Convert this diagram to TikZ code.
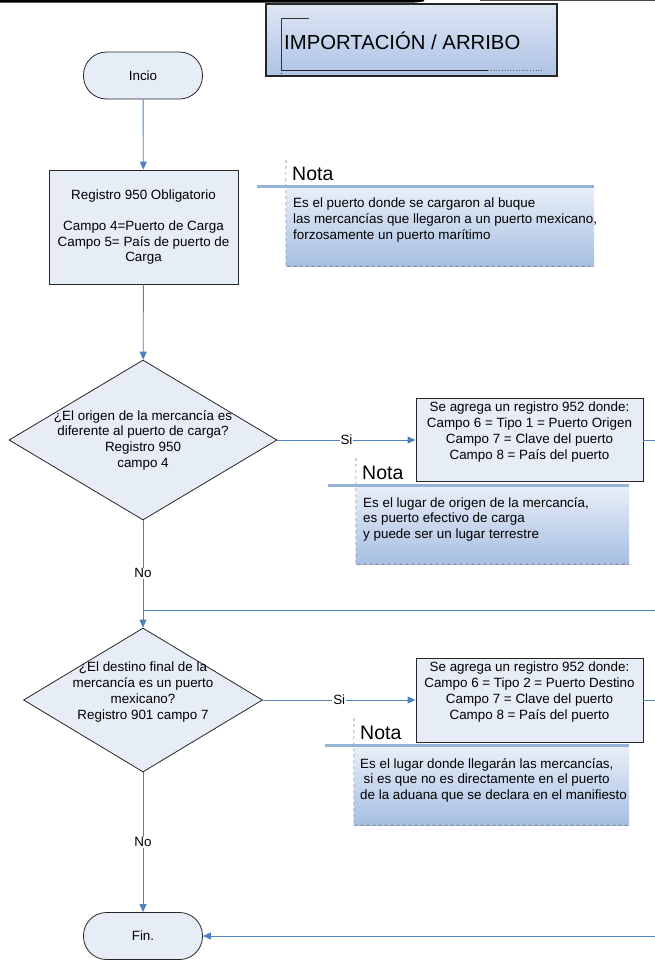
\documentclass[tikz,border=0pt]{standalone}
\usepackage{fontspec}
\setmainfont{Liberation Sans}
\usepackage{xcolor}
\usetikzlibrary{arrows.meta,shapes.geometric,positioning}
\definecolor{nodefill}{RGB}{231,237,247}
\definecolor{flowblue}{RGB}{79,129,189}
\definecolor{notabar}{RGB}{149,179,215}
\definecolor{notatop}{RGB}{234,240,249}
\definecolor{notabottom}{RGB}{166,190,225}
\definecolor{titletop}{RGB}{221,229,243}
\definecolor{titlebottom}{RGB}{174,195,230}
\tikzset{
	>={Triangle[length=8pt,width=7pt]},
	every node/.append style={font=\fontsize{13.4}{15.7}\selectfont},
	terminal/.style = {
			draw=black!85, line width=0.8pt,
			fill            = nodefill,
			rounded corners = 23pt,
			minimum width   = 119pt,
			minimum height  = 47pt,
		},
	process/.style = {
			draw=black!85, line width=0.8pt,
			fill      = nodefill,
			align     = center,
			inner sep = 0pt,
		},
	decision/.style = {
			draw=black!85, line width=0.8pt,
			fill      = nodefill,
			diamond,
			inner sep = 0pt,
		},
	flow/.style = {draw=flowblue, line width=0.9pt},
	flowlabel/.style = {fill=white, inner sep=1pt},
	notabox/.style = {top color=notatop, bottom color=notabottom, inner sep=0pt},
	notaedge/.style = {draw=black!55, dashed, line width=0.6pt},
	notabar/.style = {draw=notabar, line width=3pt},
	notatitle/.style = {anchor=base west, inner sep=0pt, font=\fontsize{19.5}{22}\selectfont},
	notatext/.style = {anchor=north west, inner sep=0pt, align=left},
}

\begin{document}
\begin{tikzpicture}[x=1pt, y=-1pt]
		\useasboundingbox (0,0) rectangle (655,962);

		% borde superior recortado
		\draw[line width=2.7pt] (0,1.3) -- (412,1.3) .. controls (418,1.3) and (420,0) .. (424,0);
		\draw[line width=1pt, black!70] (480,0.5) -- (655,0.5);

		\node[draw=black!85, line width=1.3pt, top color=titletop, bottom color=titlebottom, minimum width=291pt, minimum height=72pt] at (411.5,40) (titulo) {};
		\draw[black!80, line width=0.7pt] (281,70) -- (281,18) -- (309,18);
		\draw[black!80, dotted, line width=0.7pt] (281,70) -- (281,76);
		\draw[black!85, line width=0.8pt] (281,70) -- (488,70);
		\draw[black!60, dotted, line width=0.8pt] (488,70) -- (544,70);
		\node[anchor=base west, inner sep=0pt, font=\fontsize{20.3}{24}\selectfont] at (284,49) (titulotexto) {IMPORTACIÓN / ARRIBO};

		\node[terminal] at (143,75.5) (incio) {Incio};

		\node[process, minimum width=189pt, minimum height=114pt] at (143.5,227) (reg950) {Registro 950 Obligatorio\\[15.7pt]Campo 4=Puerto de Carga\\Campo 5= País de puerto de\\Carga};

		\node[notabox, minimum width=308pt, minimum height=80pt] at (440,226) (nota1) {};
		\draw[notaedge] (286,160) -- (nota1.north west) -- (nota1.south west) -- (nota1.south east);
		\draw[notabar] (257,186) -- (594,186);
		\node[notatitle] at (292,180) (nota1titulo) {Nota};
		\node[notatext] at (293,198) (nota1texto) {Es el puerto donde se cargaron al buque\\las mercancías que llegaron a un puerto mexicano,\\forzosamente un puerto marítimo};

		\node[decision, minimum width=268pt, minimum height=160pt] at (143,440) (dec1) {};
		\node[align=center, inner sep=0pt] at (143,440) (dec1texto) {¿El origen de la mercancía es\\diferente al puerto de carga?\\Registro 950\\campo 4};

		\node[notabox, minimum width=273pt, minimum height=79pt] at (492.5,524.5) (nota2) {};
		\draw[notaedge] (356,458) -- (nota2.north west) -- (nota2.south west) -- (nota2.south east);
		\draw[notabar] (328,485) -- (629,485);
		\node[notatitle] at (362,479) (nota2titulo) {Nota};
		\node[notatext] at (363,497) (nota2texto) {Es el lugar de origen de la mercancía,\\es puerto efectivo de carga\\y puede ser un lugar terrestre};

		\node[process, minimum width=227pt, minimum height=83pt] at (529.5,440) (agrega1) {};
		\node[align=center, inner sep=0pt] at (529.5,432) (agrega1texto) {Se agrega un registro 952 donde:\\Campo 6 = Tipo 1 = Puerto Origen\\Campo 7 = Clave del puerto\\Campo 8 = País del puerto};

		\node[decision, minimum width=239pt, minimum height=144pt] at (143,700) (dec2) {};
		\node[align=center, inner sep=0pt] at (143,692) (dec2texto) {¿El destino final de la\\mercancía es un puerto\\mexicano?\\Registro 901 campo 7};

		\node[notabox, minimum width=275pt, minimum height=80pt] at (491.5,785) (nota3) {};
		\draw[notaedge] (354,718) -- (nota3.north west) -- (nota3.south west) -- (nota3.south east);
		\draw[notabar] (325,745) -- (629,745);
		\node[notatitle] at (360,739) (nota3titulo) {Nota};
		\node[notatext] at (360,758) (nota3texto) {Es el lugar donde llegarán las mercancías,\\\hspace*{3.5pt}si es que no es directamente en el puerto\\de la aduana que se declara en el manifiesto};

		\node[process, minimum width=227pt, minimum height=84pt] at (529.5,700) (agrega2) {};
		\node[align=center, inner sep=0pt] at (529.5,692) (agrega2texto) {Se agrega un registro 952 donde:\\Campo 6 = Tipo 2 = Puerto Destino\\Campo 7 = Clave del puerto\\Campo 8 = País del puerto};

		\node[terminal] at (143,936) (fin) {Fin.};

		\coordinate (salida1) at (655,440);
		\coordinate (retorno1) at (655,610);
		\coordinate (union) at (143,610);
		\coordinate (salida2) at (655,700);
		\coordinate (retorno2) at (655,936);

		\draw[flow,->] (incio) -- (reg950);
		\draw[flow,->] (reg950) -- (dec1);
		\draw[flow,->] (dec1) -- node[flowlabel] {Si} (agrega1);
		\draw[flow] (agrega1) -- (salida1);
		\draw[flow] (dec1) -- node[flowlabel, pos=0.59] {No} (union);
		\draw[flow] (retorno1) -- (union);
		\draw[flow,->] (union) -- (dec2);
		\draw[flow,->] (dec2) -- node[flowlabel] {Si} (agrega2);
		\draw[flow] (agrega2) -- (salida2);
		\draw[flow,->] (dec2) -- node[flowlabel] {No} (fin);
		\draw[flow,->] (retorno2) -- (fin);
	\end{tikzpicture}
\end{document}
